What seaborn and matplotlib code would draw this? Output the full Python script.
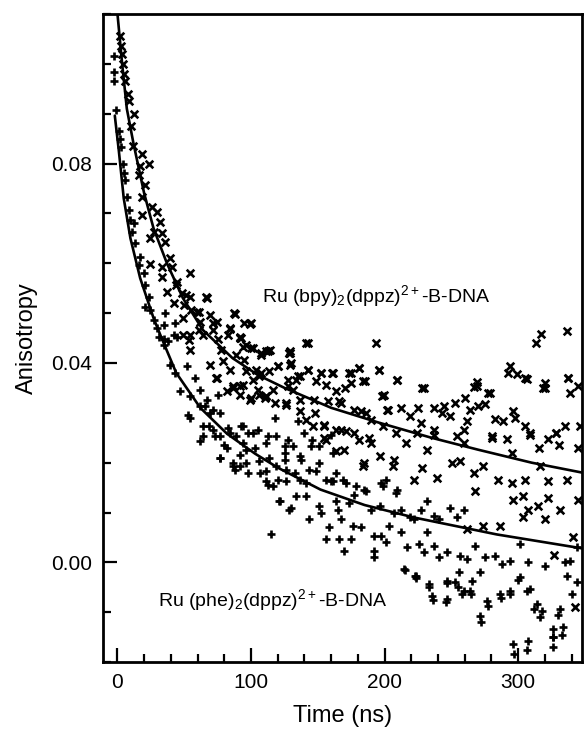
import matplotlib
matplotlib.use("Agg")
import pandas as pd
import seaborn as sns
from matplotlib import pyplot as plt
from matplotlib.ticker import MultipleLocator

# Ru(bpy)2(dppz)2+ - B-DNA, measured anisotropy ("x" markers)
bpy_t = [2.2, 2.8, 3.5, 4.2, 5.2, 6, 7.7, 8.4, 12.2, 10.2, 11.4, 18.4, 16.6, 23.3, 15.9,
         20.8, 18.4, 25.8, 18.4, 29.5, 31.5, 27, 33.3, 24.6, 35.7, 39.5, 24.6, 33.3, 40.9,
         54.3, 33.3, 44.4, 37, 48.2, 54.3, 66.8, 42, 49.6, 59.3, 69.3, 87.9, 100.3, 61.8,
         74.2, 54.3, 64.3, 71.7, 82.9, 92.8, 75.5,
         49.4, 54.3, 69.3, 79.2, 74.2, 84.1, 89, 94, 96.4, 81.7, 91.6, 86.6, 100.3,
         43.9, 51.4, 55.2, 61.4, 66.4, 87.6, 94.9, 71.4, 77.6, 83.9, 91.4, 101.4, 111.4,
         128.9, 73.9, 95.1, 103.9, 91.4, 111.4, 126.4, 131.4, 53.9, 61.4, 49,
         142.5, 193.3, 113.9, 128.9, 107.7, 128.9, 142.5, 120.2, 181.1, 195.8, 209.4, 152.4,
         161, 174.8, 135, 185, 174.8, 163.5, 198.3, 157.3, 167.2, 202, 212, 182.2, 136.8,
         148, 117.6, 110.2, 127.6, 189.6, 219.3, 154.9, 167.2, 177.2, 105.2, 107.7,
         154.9, 184.7, 207, 169.8, 189.6, 221.8, 215.7, 163.5,
         317.4, 336.5, 313.2, 293.9, 292.7, 298.9, 306.3, 337.3, 320, 318.7, 338.5, 344.6,
         229.3, 269.1, 266.6, 278.9, 260.4, 252.9, 275.2, 270.3, 224.9, 236.8, 244.8, 243,
         249.1, 264.1, 261.6, 296.4, 297.6, 282.7, 289, 305.1, 334.8, 346, 308.8, 322.4,
         328.6, 259.2, 254.2, 280.2, 291.4, 236.8, 224.4, 226.9,
         236.8, 280.2, 308.8, 328.6, 315.9, 330.8, 344.6, 231.8, 259.2, 295.1, 250.4, 256.6,
         274, 285.2, 295.1, 305.1, 316.4, 322.6, 336.3, 345, 228.1, 239.3, 266.6, 267.8,
         296.4, 303.8, 315.1, 322.6, 331.3, 341.3, 327.1, 342.5, 307.6, 320, 286.4, 303.8,
         274, 261.6,
         128.8, 130, 209.5, 228.1, 305, 269, 277.7, 319.9, 337.3,
         98.9, 83.9, 91.4, 96.2, 100.1, 107.6, 112.6, 128.8, 141.3, 120.1, 113.8, 106.3,
         101.3, 93.8, 86.3, 136.3, 142.5, 152.5, 161.2, 173.6, 181.1, 196, 183.6, 170,
         156.2, 148.7, 133.8, 127.6, 116.3, 111.3, 106.3, 98.9, 126.3, 136.3, 147.4, 166.2,
         177.4, 199.9, 202.5, 186.1, 141.3, 146.3, 155, 163.8, 171.2, 181.2, 188.7, 198.7,
         208.7, 196.2, 183.6, 206.2, 156.2]
bpy_r = [0.1056, 0.1036, 0.102, 0.100, 0.098, 0.0966, 0.094, 0.0926, 0.090, 0.0876, 0.0836,
         0.082, 0.0796, 0.080, 0.0776, 0.0756, 0.0733, 0.0713, 0.0696, 0.0703, 0.0683, 0.0663,
         0.066, 0.065, 0.0643, 0.061, 0.0598, 0.0593, 0.0593, 0.058, 0.0573, 0.0563, 0.0543,
         0.054, 0.0533, 0.053, 0.052, 0.0516, 0.0503, 0.0496, 0.0498, 0.048, 0.0483, 0.0483,
         0.0456, 0.0456, 0.0466, 0.0456, 0.0451, 0.0449,
         0.0456, 0.0426, 0.0396, 0.0403, 0.037, 0.0386, 0.0416, 0.0432, 0.0383, 0.0343,
         0.0336, 0.0353, 0.033,
         0.0556, 0.0536, 0.0506, 0.0503, 0.0533, 0.050, 0.048, 0.048, 0.0426, 0.047, 0.045,
         0.043, 0.0423, 0.0423, 0.037, 0.0406, 0.0386, 0.0353, 0.0333, 0.0316, 0.0346,
         0.0446, 0.0466, 0.049,
         0.0439, 0.0439, 0.0426, 0.0419, 0.0416, 0.0396, 0.0386, 0.0393, 0.0389, 0.0386,
         0.0366, 0.0379, 0.0379, 0.0379, 0.0373, 0.0363, 0.0359, 0.0343, 0.0333, 0.0323,
         0.0319, 0.0306, 0.031, 0.0303, 0.0303, 0.0299, 0.0319, 0.0329, 0.0353, 0.0286,
         0.0293, 0.0273, 0.0266, 0.026, 0.0346, 0.0379,
         0.025, 0.020, 0.0206, 0.0226, 0.024, 0.0166, 0.024, 0.0223,
         0.0459, 0.0465, 0.0439, 0.0393, 0.0379, 0.0377, 0.0368, 0.037, 0.0359, 0.0349,
         0.0339, 0.0353, 0.0349, 0.0361, 0.0351, 0.034, 0.0329, 0.0319, 0.0318, 0.0313,
         0.0309, 0.0309, 0.0313, 0.0299, 0.0293, 0.0306, 0.0283, 0.0303, 0.029, 0.0288,
         0.0283, 0.0273, 0.0274, 0.0273, 0.026, 0.0247, 0.026, 0.0266, 0.0253, 0.0253,
         0.0247, 0.0266, 0.026, 0.028,
         0.0256, 0.025, 0.0256, 0.026, 0.023, 0.0236, 0.023, 0.0226, 0.024, 0.022, 0.0199,
         0.0203, 0.0193, 0.0166, 0.016, 0.0166, 0.0193, 0.0163, 0.0166, 0.0126, 0.019,
         0.017, 0.018, 0.0143, 0.0126, 0.0133, 0.0113, 0.013, 0.0106, 0.005, 0.0014,
         -0.009, 0.0106, 0.0086, 0.0073, 0.009, 0.0073, 0.0066,
         0.0419, 0.040, 0.0366, 0.0349, 0.0369, 0.0353, 0.034, 0.0349, 0.0369,
         0.0479, 0.0469, 0.0453, 0.0436, 0.043, 0.042, 0.0423, 0.042, 0.0439, 0.0393, 0.0383,
         0.0373, 0.0366, 0.0356, 0.035, 0.0373, 0.0386, 0.038, 0.038, 0.038, 0.039, 0.0386,
         0.0363, 0.035, 0.0356, 0.0363, 0.0366, 0.0366, 0.0346, 0.0333, 0.0336, 0.0326,
         0.0319, 0.0326, 0.0326, 0.0323, 0.0306, 0.0336, 0.0306, 0.0299, 0.0286, 0.0273,
         0.0276, 0.0266, 0.0263, 0.0246, 0.025, 0.0273, 0.026, 0.0213, 0.0193, 0.0193,
         0.0246]

# Ru(phe)2(dppz)2+ - B-DNA, measured anisotropy ("+" markers)
phe_t = [-2.7, -2.3, -2.3, -0.8, 1, 2.2, 2.8, 4.2, 4.7, 6, 7.2, 8.4, 9.7, 12.2, 11, 13.4,
         17.2, 15.9, 19.6, 20.8, 23.3, 20.8, 24.6, 27, 35.7, 43.2, 34.5, 29.5, 42, 34.5,
         30.8, 34.5, 38.2, 44.4, 39.5, 43.2, 51.9, 58.1, 46.9, 54.3, 61.8, 66.8, 75.5, 61.8,
         54.3, 69.3, 64.3, 71.7, 61.8, 76.7, 82.9, 94, 101.5, 89, 81.7, 96.4, 76.7, 86.6,
         91.6, 87.9, 97.7, 53,
         117.6, 135, 112.7, 127.6, 146, 159.8, 140, 105.2,
         115.2, 112.7, 121.4, 130, 133.8, 120.2, 126.3, 141.2, 143.7, 152.4, 158.6, 156.1,
         166, 169.8, 174.8, 167.2, 176, 182.2, 192.1, 197.1, 192.1, 192.1, 200.8, 203.3, 212,
         217, 214.5, 223.2, 163.5, 159.8, 184.7, 197.1, 209.4, 189.6, 207, 212, 106.9,
         137.5, 148.5, 168.5, 177.2, 200.8, 219.3, 125.1,
         226.9, 236.8, 240.5, 221.9, 254.2, 259.2, 249.1, 231.8, 231.8, 225.6, 236.8, 229.3,
         240.5, 246.7, 256.6, 261.6, 267.8, 275.2, 282.7, 287.6, 293.9, 301.3, 307.6, 320,
         334.8, 338.5, 223.1, 233.1, 235.5, 246.7, 252.9, 255.4, 259.2, 264.1, 265.4, 271.6,
         246.7, 276.5, 286.4, 293.9, 301.3, 308.8, 313.8, 317.6, 271.6, 296.4, 307.6, 326.1,
         326.1, 333.5, 331, 336.3, 340, 343.7, 343.7,
         215, 223.4, 233, 236, 245.7, 247, 255, 258, 265, 272, 277.5, 287, 294, 297, 306.6,
         300, 306.6, 312, 316, 326, 326, 333, 330,
         65.2, 71.4, 76.4, 68.9, 63.9, 72.7, 80.1, 83.9, 92.7, 97.7, 94, 102.6, 111.3, 118.8,
         125.1, 131.3, 136.3, 145, 113.8, 106.3, 91.4, 96.4, 86.3, 76.4, 125.1, 118.8, 126.3,
         132.6, 136.3, 143.7, 151.2, 156.2, 161.2, 171.2, 178.7, 186.1, 198.6, 208.7, 111.3,
         116.3, 121.3, 128.8, 141.3, 151.2, 165, 173.7, 196.2, 161.2, 163.8, 151.2, 111.3]
phe_r = [0.1016, 0.0983, 0.0966, 0.0907, 0.0866, 0.085, 0.0833, 0.080, 0.078, 0.0766, 0.0733,
         0.0706, 0.0686, 0.068, 0.0663, 0.064, 0.0613, 0.0596, 0.058, 0.0556, 0.0533, 0.0513,
         0.0506, 0.0486, 0.050, 0.048, 0.0476, 0.047, 0.0456, 0.0449,
         0.0453, 0.0436, 0.0443, 0.0453, 0.0396, 0.038, 0.0393, 0.037, 0.0343, 0.0333, 0.0346,
         0.0326, 0.0336, 0.0313, 0.029, 0.030, 0.0273, 0.0266, 0.0243, 0.0253, 0.027, 0.0273,
         0.026, 0.0253, 0.0229, 0.0226, 0.0209, 0.0199, 0.0193, 0.0186, 0.0179, 0.0296,
         0.0289, 0.0283, 0.0253, 0.0246, 0.0246, 0.0256, 0.026, 0.0266,
         0.0056, 0.0156, 0.0123, 0.011, 0.0133, 0.0166, 0.0163, 0.016, 0.0086, 0.010, 0.007,
         0.0046, 0.0046, 0.0023, 0.0046, 0.0086, 0.0073, 0.007, 0.0053, 0.0053, 0.0023,
         0.001, 0.004, 0.0073, 0.006, 0.003, -0.0014, -0.0027, 0.0123, 0.0163, 0.0146, 0.016,
         0.0146, 0.0106, 0.010, 0.0106, 0.0179, 0.0206, 0.0183, 0.0166, 0.0136, 0.0166,
         0.009, 0.022,
         0.0106, 0.0093, 0.0086, 0.0086, 0.009, 0.0106, 0.011, 0.0123, 0.006, 0.0036, 0.0033,
         0.002, 0.001, 0.002, 0.0013, 0.0006, 0.0033, 0.001, 0.0013, -0.0004, 0.0003, 0.0036,
         0.0, -0.0007, 0.0, 0.0003, -0.0027, -0.0044, -0.0067, -0.0037, -0.004, -0.002,
         -0.0057, -0.0057, -0.0037, -0.002, -0.0074, -0.0077, -0.0064, -0.0057, -0.003,
         -0.0053, -0.0084, -0.0097, -0.0107, -0.0164, -0.0157, -0.0134, -0.015, -0.013,
         -0.0094, -0.0027, -0.0064, -0.004, 0.003,
         -0.0016, -0.0031, -0.005, -0.0076, -0.008, -0.0042, -0.005, -0.0064, -0.0064, -0.012,
         -0.0087, -0.0072, -0.0064, -0.0184, -0.0176, -0.0035, -0.0057, -0.0094, -0.011,
         -0.015, -0.017, -0.0146, -0.0106,
         0.0313, 0.0306, 0.030, 0.0273, 0.0253, 0.0253, 0.0236, 0.0259, 0.0273, 0.0259,
         0.0239, 0.0229, 0.0239, 0.0253, 0.0233, 0.0233, 0.0213, 0.0233, 0.0209, 0.0203,
         0.0216, 0.0199, 0.0193, 0.0209, 0.0206, 0.0193, 0.0186, 0.018, 0.0166, 0.0186,
         0.020, 0.0166, 0.0163, 0.016, 0.0153, 0.0143, 0.0153, 0.014, 0.0163, 0.0153, 0.0123,
         0.0106, 0.0133, 0.0113, 0.0106, 0.012, 0.0113, 0.0219, 0.0179, 0.0233, 0.0183]

# fitted curves, points
bpy_fit_t = [0, 3.5, 7, 12, 20, 27, 37, 49, 64, 86, 105, 125, 160, 196, 235, 270, 310, 348]
bpy_fit_r = [0.110, 0.100, 0.091, 0.084, 0.074, 0.067, 0.060, 0.053, 0.0466, 0.041, 0.0376,
             0.035, 0.031, 0.028, 0.025, 0.0226, 0.020, 0.018]
phe_fit_t = [-2, 1, 4.7, 9.7, 17, 27, 33, 44, 62, 82, 103, 120, 136, 152, 185, 222, 284, 348]
phe_fit_r = [0.0896, 0.0826, 0.073, 0.065, 0.057, 0.049, 0.045, 0.038, 0.031, 0.0258, 0.0218,
             0.019, 0.0168, 0.0146, 0.0115, 0.009, 0.0056, 0.0028]

sns.set_style("ticks")
plt.rcParams['font.family'] = ['Liberation Sans', 'DejaVu Sans']
plt.rcParams['mathtext.fontset'] = 'custom'
plt.rcParams['mathtext.rm'] = 'Liberation Sans'
plt.rcParams['mathtext.it'] = 'Liberation Sans'
for key in ['text.color', 'axes.labelcolor', 'xtick.color', 'ytick.color', 'axes.edgecolor']:
    plt.rcParams[key] = 'black'

fig = plt.figure(figsize=(5.84, 7.34), dpi=100)
ax = fig.add_axes([0.176, 0.098, 0.821, 0.883])

bpy = pd.DataFrame({'t': bpy_t, 'r': bpy_r})
phe = pd.DataFrame({'t': phe_t, 'r': phe_r})

sns.scatterplot(data=bpy, x='t', y='r', marker='x', color='black', s=30, linewidth=1.9, ax=ax)
sns.scatterplot(data=phe, x='t', y='r', marker='+', color='black', s=32, linewidth=1.9, ax=ax)
sns.lineplot(x=bpy_fit_t, y=bpy_fit_r, color='black', linewidth=1.9, ax=ax)
sns.lineplot(x=phe_fit_t, y=phe_fit_r, color='black', linewidth=1.9, ax=ax)

ax.text(108, 0.0535, r'Ru (bpy)$_2$(dppz)$^{2+}$-B-DNA', fontsize=14, va='center')
ax.text(30.5, -0.0075, r'Ru (phe)$_2$(dppz)$^{2+}$-B-DNA', fontsize=14, va='center')

ax.set_xlim(-11, 348)
ax.set_ylim(-0.02, 0.11)
ax.xaxis.set_major_locator(MultipleLocator(100))
ax.xaxis.set_minor_locator(MultipleLocator(20))
ax.yaxis.set_major_locator(MultipleLocator(0.04))
ax.yaxis.set_minor_locator(MultipleLocator(0.01))
ax.yaxis.set_major_formatter(plt.FormatStrFormatter('%.2f'))
ax.tick_params(which='both', direction='in', width=1.6, labelsize=15)
ax.tick_params(which='major', length=10, pad=8)
ax.tick_params(which='minor', length=6)
for sp in ax.spines.values():
    sp.set_linewidth(2)

ax.set_xlabel('Time (ns)', fontsize=17, labelpad=9)
ax.set_ylabel('Anisotropy', fontsize=17, labelpad=9)

plt.savefig('out.png', dpi=100)
